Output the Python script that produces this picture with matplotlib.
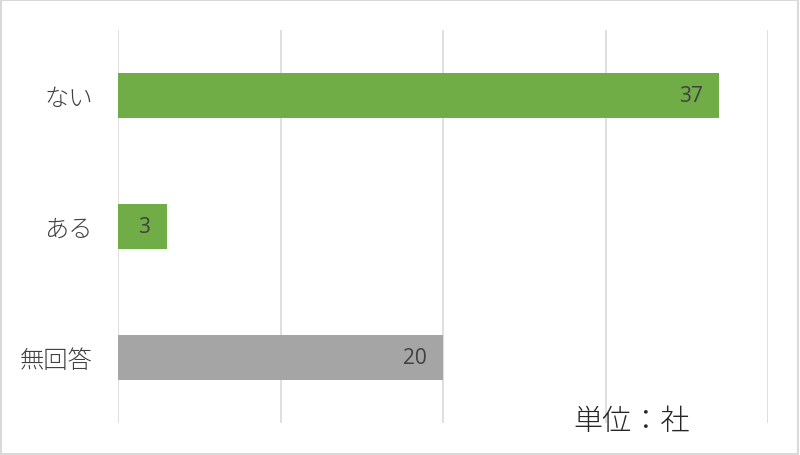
import matplotlib
matplotlib.use("Agg")
import matplotlib.pyplot as plt
from matplotlib.patches import Rectangle

plt.rcParams['font.family'] = ['Noto Sans CJK JP', 'DejaVu Sans']

categories = ["ない", "ある", "無回答"]
values = [37, 3, 20]
colors = ["#70AD47", "#70AD47", "#A5A5A5"]
xticks = [0, 10, 20, 30, 40]
unit_text = "単位：社"

fig = plt.figure(figsize=(8.0, 4.56), dpi=100)
ax = fig.add_axes([118/800, 1-424/456, (768-118)/800, 393/456])

ypos = list(range(len(categories)))
ax.barh(ypos, values, height=0.35, color=colors, zorder=3)
ax.set_ylim(2.5, -0.5)
ax.set_xlim(0, 40)
ax.set_xticks(xticks)
ax.set_xticklabels([])
ax.tick_params(axis='x', length=0)
ax.tick_params(axis='y', length=0, pad=18)
ax.set_yticks(ypos)
ax.set_yticklabels(categories, fontsize=17.5, color="#404040", fontweight='light')
ax.grid(axis='x', color="#D9D9D9", linewidth=1.2, zorder=0)
for s in ax.spines.values():
    s.set_visible(False)

for y, v in zip(ypos, values):
    ax.annotate(str(v), xy=(v, y), xytext=(-12, 0), textcoords='offset points',
                ha='right', va='center', fontsize=15, color="#404040",
                family=['Open Sans', 'DejaVu Sans'], zorder=4)

fig.text(573/800, 1-422/456, unit_text, fontsize=21, color="#262626",
         ha='left', va='center', fontweight='light')

fig.patches.append(Rectangle((0.001, 0.002), 0.997, 0.995, transform=fig.transFigure,
                             fill=False, edgecolor="#D9D9D9", linewidth=1.5))

fig.savefig("out.png", dpi=100, facecolor="white")
